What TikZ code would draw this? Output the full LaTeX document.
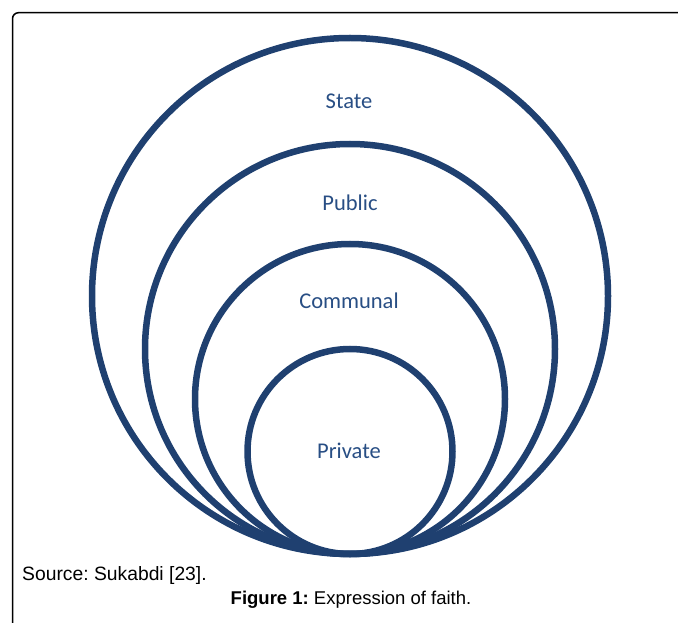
\documentclass[tikz,border=0pt]{standalone}
\usepackage{fontspec}
\setmainfont{Liberation Sans}
\newfontfamily\labelfont{Carlito}
\definecolor{ringblue}{RGB}{31,64,112}
\definecolor{textblue}{RGB}{40,78,132}
\begin{document}
\frenchspacing
\begin{tikzpicture}[x=1pt,y=-1pt,
  ring/.style={circle,draw=ringblue,line width=6.5pt,inner sep=0pt},
  ringlabel/.style={font=\labelfont\fontsize{22.5}{26}\selectfont,text=textblue,inner sep=0pt},
  captext/.style={font=\frenchspacing\fontsize{18.5}{21}\selectfont,inner sep=0pt}]
\useasboundingbox (0,0) rectangle (678,623);
\draw[line width=1.5pt,rounded corners=6pt] (12.5,640) -- (12.5,12.7) -- (700,12.7);
\node[ring,minimum size=516pt] (state) at (350,296) {};
\node[ring,minimum size=410pt] (public) at (350,349) {};
\node[ring,minimum size=310pt] (communal) at (350,399) {};
\node[ring,minimum size=205pt] (private) at (350,451.5) {};
\node[ringlabel] (lstate) at (349,101) {State};
\node[ringlabel] (lpublic) at (350,203) {Public};
\node[ringlabel] (lcommunal) at (349,301) {Communal};
\node[ringlabel] (lprivate) at (349,451) {Private};
\node[captext,font=\frenchspacing\fontsize{19.3}{22}\selectfont,anchor=base west] (source) at (22,580) {Source: Sukabdi [23].};
\node[captext,anchor=base] (figcap) at (351,604) {\textbf{Figure 1:} Expression of faith.};
\end{tikzpicture}
\end{document}
